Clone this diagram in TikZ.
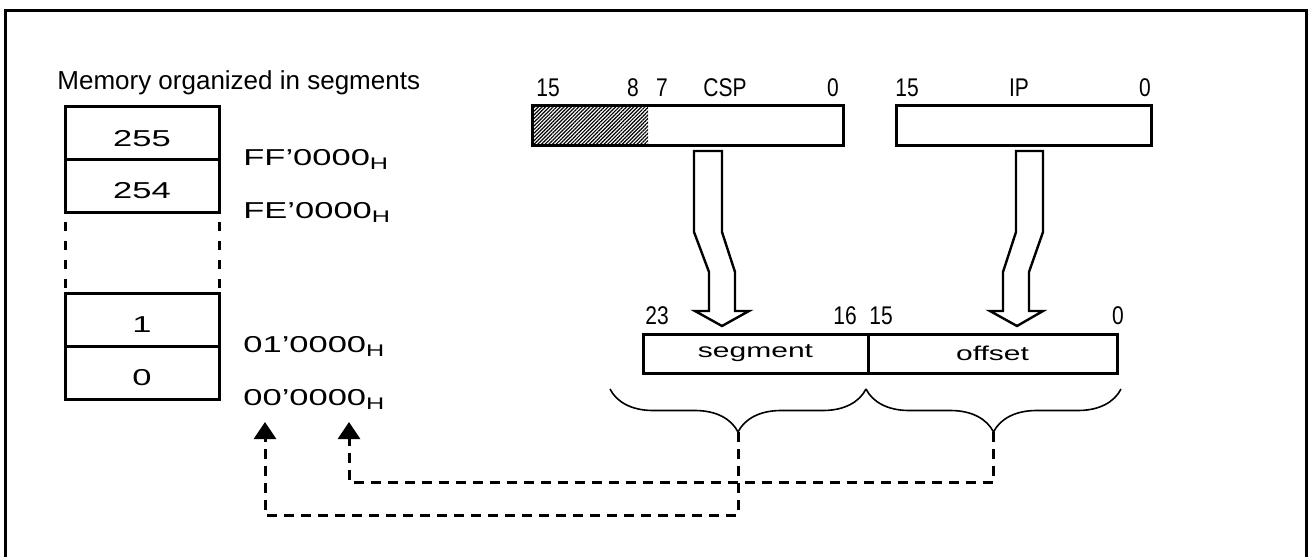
\documentclass[tikz,border=0pt]{standalone}
\usepackage{fontspec}
\setmainfont{Liberation Sans}
\newfontfamily\widefont{Liberation Sans}[FakeStretch=1.5]
\newfontfamily\narrowfont{Liberation Sans}[FakeStretch=0.82]
\usetikzlibrary{arrows.meta,decorations.pathreplacing,patterns.meta}

\begin{document}
\begin{tikzpicture}[
  x=.5pt,y=-.5pt,
  line cap=butt,line join=miter,
  memrow/.style={draw,line width=1.5pt,minimum width=77pt,minimum height=26.5pt,
                 inner sep=0pt,outer sep=0pt},
  memnum/.style={anchor=base,font=\widefont\fontsize{11.5}{13}\selectfont},
  addr/.style={anchor=base west,inner sep=0pt,font=\widefont\fontsize{11.5}{13}\selectfont},
  reg/.style={draw,line width=1.5pt,minimum height=20pt,inner sep=0pt,outer sep=0pt},
  bitnum/.style={anchor=base,inner sep=0pt,font=\narrowfont\fontsize{12.8}{14}\selectfont},
  field/.style={draw,line width=1.5pt,minimum height=19.5pt,inner sep=0pt,outer sep=0pt,
                font=\widefont\fontsize{10}{12}\selectfont},
  bigarrow/.style={draw,fill=white,line width=1.2pt},
  curly/.style={decorate,decoration={brace,mirror,amplitude=21.5pt},line width=.8pt},
  gapline/.style={line width=1.5pt,dash pattern=on 4.5pt off 5pt,dash phase=4.5pt},
  dashlink/.style={-{Triangle[width=11pt,length=8.5pt]},line width=1.5pt,
                   dash pattern=on 5pt off 3.5pt}
]
\useasboundingbox (0,0) rectangle (1308,557);
\draw[line width=1.5pt] (5,570) -- (5,10) -- (1306,10) -- (1306,570);

% Memory column
\node[anchor=base west,inner sep=0pt,font=\fontsize{13}{15}\selectfont] (title) at (57,90)
  {Memory organized in segments};
\node[memrow] (row255) at (142,132.5) {};
\node[memrow] (row254) at (142,185.5) {};
\node[memrow] (row1) at (142,319.5) {};
\node[memrow] (row0) at (142,372.5) {};
\draw[gapline] (row254.south west) -- (row1.north west);
\draw[gapline] (row254.south east) -- (row1.north east);
\node[memnum] (n255) at (142,146) {255};
\node[memnum] (n254) at (142,198) {254};
\node[memnum] (n1) at (142,332) {1};
\node[memnum] (n0) at (142,385) {0};

\node[addr] (addrff) at (243,165) {FF’0000\raisebox{-2pt}{\fontsize{8.4}{9}\selectfont H}};
\node[addr] (addrfe) at (243,218) {FE’0000\raisebox{-2pt}{\fontsize{8.4}{9}\selectfont H}};
\node[addr] (addr01) at (243,352) {01’0000\raisebox{-2pt}{\fontsize{8.4}{9}\selectfont H}};
\node[addr] (addr00) at (243,405) {00’0000\raisebox{-2pt}{\fontsize{8.4}{9}\selectfont H}};

% CSP and IP registers
\fill[pattern={Lines[angle=45,distance=1.3pt,line width=.6pt]}] (532,105) rectangle (648,145);
\node[reg,minimum width=155.5pt] (csp) at (687.5,125) {};
\node[reg,minimum width=127.5pt] (ip) at (1023.5,125) {};
\node[bitnum] (csp15) at (548,96) {15};
\node[bitnum] (csp8) at (633,96) {8};
\node[bitnum] (csp7) at (662,96) {7};
\node[bitnum] (cspname) at (725,96) {CSP};
\node[bitnum] (csp0) at (833,96) {0};
\node[bitnum] (ip15) at (907,96) {15};
\node[bitnum] (ipname) at (1019,96) {IP};
\node[bitnum] (ip0) at (1145,96) {0};

% 24-bit address
\node[field,minimum width=112.5pt] (seg) at (755.5,353.5) {segment};
\node[field,minimum width=124.5pt] (ofs) at (992.5,353.5) {offset};
\node[bitnum] (seg23) at (657,324) {23};
\node[bitnum] (seg16) at (845,324) {16};
\node[bitnum] (ofs15) at (881,324) {15};
\node[bitnum] (ofs0) at (1118,324) {0};

\draw[bigarrow] (694,151) -- (722,151) -- (722,232) -- (735,272) -- (735,311) -- (749,311)
  -- (722,326) -- (695,311) -- (709,311) -- (709,272) -- (694,232) -- cycle;
\draw[bigarrow] (1016,151) -- (1043,151) -- (1043,232) -- (1029,272) -- (1029,311) -- (1043,311)
  -- (1017,326) -- (990,311) -- (1003,311) -- (1003,272) -- (1016,232) -- cycle;

% braces and links back to memory
\draw[curly] (610,389) -- (866,389);
\draw[curly] (866,389) -- (1121,389);
\coordinate (segtip) at (738,432);
\coordinate (ofstip) at (993.5,432);
\coordinate (segin) at (265,422);
\coordinate (ofsin) at (349,422);
\draw[dashlink] (segtip) -- ++(0,83) -| (segin);
\draw[dashlink] (ofstip) -- ++(0,50) -| (ofsin);
\end{tikzpicture}
\end{document}
